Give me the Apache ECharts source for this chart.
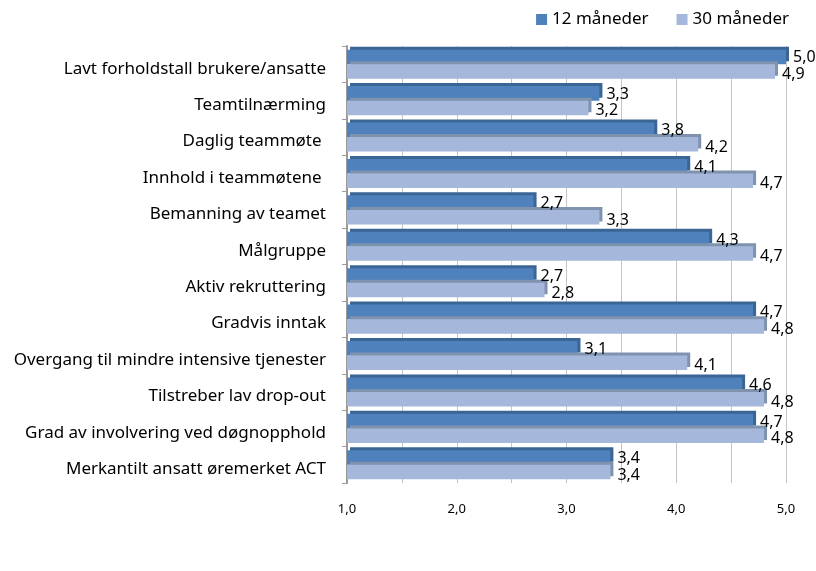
<!DOCTYPE html>
<html>
<head>
<meta charset="utf-8">
<script src="https://cdn.jsdelivr.net/npm/echarts@6/dist/echarts.min.js"></script>
<style>html,body{margin:0;padding:0;background:#fff}#c{width:816px;height:571px}</style>
</head>
<body>
<div id="c"></div>
<script>
const categories = [
  "Lavt forholdstall brukere/ansatte",
  "Teamtilnærming",
  "Daglig teammøte ",
  "Innhold i teammøtene ",
  "Bemanning av teamet",
  "Målgruppe",
  "Aktiv rekruttering",
  "Gradvis inntak",
  "Overgang til mindre intensive tjenester",
  "Tilstreber lav drop-out",
  "Grad av involvering ved døgnopphold",
  "Merkantilt ansatt øremerket ACT"
];
const months12 = [5.0, 3.3, 3.8, 4.1, 2.7, 4.3, 2.7, 4.7, 3.1, 4.6, 4.7, 3.4];
const months30 = [4.9, 3.2, 4.2, 4.7, 3.3, 4.7, 2.8, 4.8, 4.1, 4.8, 4.8, 3.4];
const seriesNames = ["12 måneder", "30 måneder"];

const font = "'Noto Sans', Lato, sans-serif";
const chart = echarts.init(document.getElementById('c'));
const fmt = p => p.value.toFixed(1).replace('.', ',');
chart.setOption({
  animation: false,
  textStyle: { fontFamily: font },
  legend: {
    right: 22, top: 6,
    itemWidth: 11, itemHeight: 11, itemGap: 28, itemStyle: { shadowBlur: 0, shadowOffsetX: 0, shadowOffsetY: 0 },
    icon: 'rect',
    textStyle: { fontSize: 17, color: '#000', fontFamily: font },
    data: seriesNames
  },
  grid: { left: 347, right: 30, top: 46, bottom: 88 },
  xAxis: {
    type: 'value', min: 1, max: 5, interval: 0.5,
    axisLine: { show: false },
    axisTick: { show: false },
    axisLabel: {
      margin: 20, fontSize: 13, color: '#000', fontFamily: font,
      formatter: v => (Math.abs(v - Math.round(v)) < 1e-6 ? v.toFixed(1).replace('.', ',') : '')
    },
    splitLine: { show: true, lineStyle: { color: '#c4c4c4', width: 1 } }
  },
  yAxis: {
    type: 'category', inverse: true, data: categories,
    axisLine: { show: true, lineStyle: { color: '#9a9a9a', width: 2 } },
    axisTick: { show: true, inside: false, length: 5, lineStyle: { color: '#9a9a9a' } },
    axisLabel: {
      color: '#000', margin: 21, fontFamily: font,
      formatter: v => '{a|' + v + '}',
      rich: { a: { fontSize: 17, color: '#000', fontFamily: font, padding: [9, 0, 0, 0] } }
    }
  },
  series: [
    {
      name: seriesNames[0], type: 'bar', data: months12,
      barGap: '0%', barCategoryGap: '20%',
      itemStyle: {
        color: '#4F81BD',
        shadowColor: '#3A6594', shadowOffsetX: 3, shadowOffsetY: -3, shadowBlur: 0
      },
      label: { show: true, position: 'right', distance: 7, offset: [0, 1], fontSize: 16, color: '#000', fontFamily: font, formatter: fmt }
    },
    {
      name: seriesNames[1], type: 'bar', data: months30,
      itemStyle: {
        color: '#A5B8DB',
        shadowColor: '#7F92AE', shadowOffsetX: 3, shadowOffsetY: -3, shadowBlur: 0
      },
      label: { show: true, position: 'right', distance: 7, offset: [0, 3], fontSize: 16, color: '#000', fontFamily: font, formatter: fmt }
    }
  ]
});
</script>
</body>
</html>
